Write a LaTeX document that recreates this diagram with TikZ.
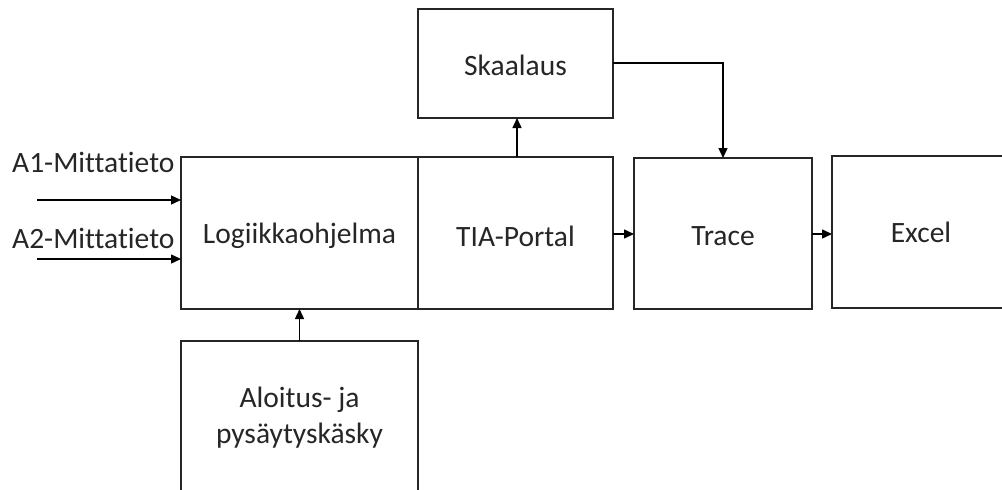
\documentclass[tikz,border=0pt]{standalone}
\usepackage{fontspec}
\setmainfont{Carlito}[Ligatures=NoCommon]
\usetikzlibrary{arrows.meta}
\begin{document}
\begin{tikzpicture}[x=1pt,y=-1pt,
  blk/.style={draw=black!85,line width=1.4pt,fill=white},
  lbl/.style={font=\fontsize{29.5}{36}\selectfont,text=black!85,align=center},
  arr/.style={draw=black,line width=1.4pt,-{Triangle[length=10pt,width=9pt]}}]
\useasboundingbox (0,0) rectangle (1002,490);
\clip (0,0) rectangle (1002,490);
% boxes
\draw[blk] (181,157) rectangle (418,309);
\node[lbl] (logi) at (299.5,236) {Logiikkaohjelma};
\coordinate (logiN) at (299.5,157);
\coordinate (logiS) at (299.5,309);
\coordinate (logiW1) at (181,200);
\coordinate (logiW2) at (181,259);
\draw[blk] (418,157) rectangle (613,309);
\node[lbl] (tia) at (515.5,236) {TIA-Portal};
\coordinate (tiaN) at (517,157);
\coordinate (tiaE) at (613,234);
\draw[blk] (418,9) rectangle (613,118);
\node[lbl] (ska) at (515.5,65) {Skaalaus};
\coordinate (skaS) at (517,118);
\coordinate (skaE) at (613,63);
\draw[blk] (634,158) rectangle (812,309);
\node[lbl] (trace) at (723,236) {Trace};
\coordinate (traceN) at (723,158);
\coordinate (traceW) at (634,234);
\coordinate (traceE) at (812,234);
\draw[blk] (832,156) rectangle (1010,308);
\node[lbl] (excel) at (921,232) {Excel};
\coordinate (excelW) at (832,234);
\draw[blk] (181,341) rectangle (418,500);
\node[lbl] (alo) at (299.5,418) {Aloitus- ja\\pysäytyskäsky};
\coordinate (aloN) at (299.5,341);
% inputs
\node[lbl,anchor=west,inner sep=0pt] (a1) at (12,162) {A1-Mittatieto};
\node[lbl,anchor=west,inner sep=0pt] (a2) at (12,238) {A2-Mittatieto};
\coordinate (in1) at (37,200);
\coordinate (in2) at (37,259);
% connectors
\draw[arr] (in1) -- (logiW1);
\draw[arr] (in2) -- (logiW2);
\draw[arr] (aloN) -- (logiS);
\draw[arr] (tiaN) -- (skaS);
\draw[arr] (skaE) -| (traceN);
\draw[arr] (tiaE) -- (traceW);
\draw[arr] (traceE) -- (excelW);
\end{tikzpicture}
\end{document}
